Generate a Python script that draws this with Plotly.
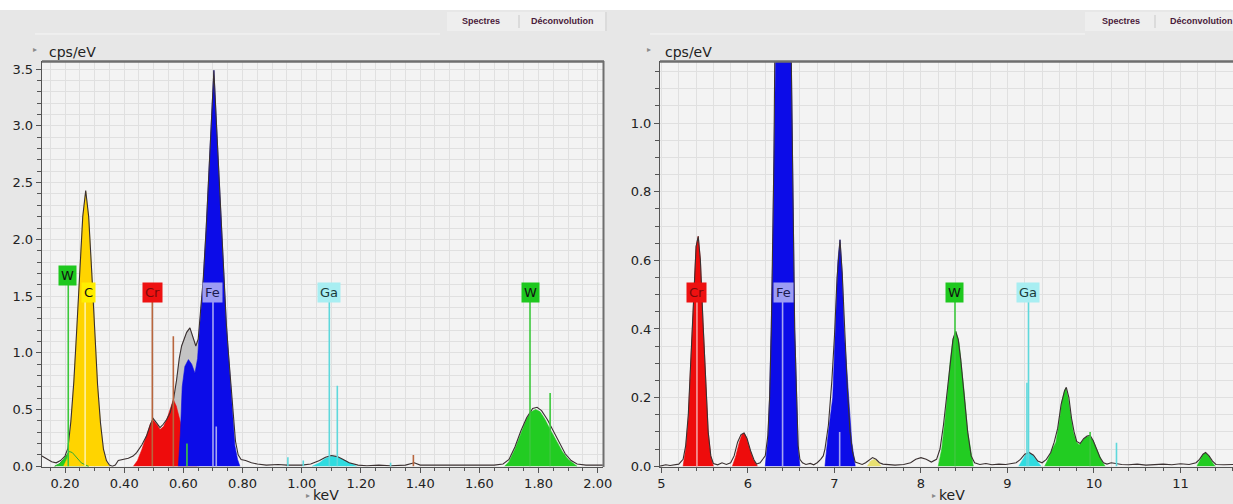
import plotly.graph_objects as go

# ---------------- data ----------------
# Left panel: low-energy spectrum (keV, cps/eV)
left_meas_e = [0.122, 0.14, 0.155, 0.17, 0.185, 0.20, 0.21, 0.22, 0.23, 0.24, 0.25, 0.26, 0.27, 0.28, 0.29,
               0.30, 0.31, 0.32, 0.33, 0.34, 0.35, 0.36, 0.37, 0.38, 0.40, 0.414, 0.43, 0.442, 0.46, 0.476,
               0.49, 0.498, 0.51, 0.521, 0.532, 0.543, 0.555, 0.566, 0.577, 0.586, 0.594, 0.603, 0.611,
               0.622, 0.633, 0.642, 0.650, 0.658, 0.667, 0.677, 0.685, 0.694, 0.703, 0.712, 0.721, 0.729,
               0.737, 0.745, 0.752, 0.760, 0.768, 0.776, 0.785, 0.795, 0.81, 0.83, 0.85, 0.88, 0.92, 0.95,
               1.00, 1.03, 1.06, 1.08, 1.10, 1.12, 1.14, 1.16, 1.19, 1.22, 1.26, 1.30, 1.35, 1.38, 1.40,
               1.45, 1.50, 1.55, 1.60, 1.65, 1.68, 1.70, 1.72, 1.74, 1.76, 1.78, 1.795, 1.81, 1.83, 1.85,
               1.87, 1.89, 1.91, 1.93, 1.96, 2.00, 2.017]
left_meas_y = [0.09, 0.06, 0.04, 0.03, 0.05, 0.09, 0.16, 0.40, 0.75, 1.22, 1.76, 2.2, 2.43, 2.2, 1.73,
               1.2, 0.72, 0.38, 0.15, 0.05, 0.01, 0.0, 0.01, 0.05, 0.06, 0.07, 0.09, 0.12, 0.19, 0.27,
               0.38, 0.42, 0.38, 0.34, 0.37, 0.41, 0.47, 0.58, 0.76, 0.95, 1.06, 1.13, 1.18,
               1.22, 1.13, 1.06, 1.12, 1.35, 1.65, 2.1, 2.55, 3.05, 3.49, 3.0, 2.5, 2.02,
               1.62, 1.26, 1.0, 0.72, 0.45, 0.22, 0.1, 0.06, 0.05, 0.03, 0.02, 0.01, 0.015, 0.01,
               0.01, 0.02, 0.05, 0.08, 0.095, 0.085, 0.06, 0.03, 0.01, 0.005, 0.01, 0.005, 0.01, 0.03, 0.01,
               0.01, 0.005, 0.01, 0.005, 0.01, 0.02, 0.06, 0.17, 0.31, 0.43, 0.51, 0.52, 0.49, 0.41, 0.31,
               0.2, 0.11, 0.05, 0.02, 0.01, 0.01, 0.01]

# unfitted residual (grey) region of the measured spectrum
gray_e = [0.555, 0.566, 0.577, 0.586, 0.594, 0.603, 0.611, 0.622, 0.633, 0.642, 0.652, 0.652, 0.555]
gray_y = [0.47, 0.58, 0.76, 0.95, 1.06, 1.13, 1.18, 1.22, 1.13, 1.06, 1.14, 0.0, 0.0]

w_m_e = [0.165, 0.18, 0.195, 0.205, 0.215, 0.225, 0.235, 0.245, 0.255, 0.27, 0.28]
w_m_y = [0.0, 0.02, 0.06, 0.10, 0.13, 0.12, 0.09, 0.06, 0.03, 0.01, 0.0]

c_k_e = [0.195, 0.21, 0.22, 0.23, 0.24, 0.25, 0.26, 0.27, 0.28, 0.29, 0.30, 0.31, 0.32, 0.33, 0.34, 0.35]
c_k_y = [0.0, 0.08, 0.38, 0.74, 1.2, 1.74, 2.19, 2.42, 2.19, 1.72, 1.19, 0.71, 0.37, 0.14, 0.04, 0.0]

cr_l_e = [0.431, 0.445, 0.46, 0.475, 0.488, 0.498, 0.51, 0.521, 0.533, 0.545, 0.556, 0.566, 0.576,
          0.586, 0.598, 0.61, 0.622, 0.633, 0.645]
cr_l_y = [0.0, 0.05, 0.15, 0.28, 0.37, 0.405, 0.37, 0.323, 0.35, 0.42, 0.52, 0.587, 0.53,
          0.42, 0.3, 0.18, 0.1, 0.05, 0.0]

fe_l_e = [0.583, 0.590, 0.596, 0.605, 0.617, 0.628, 0.639, 0.648, 0.654, 0.667, 0.677, 0.684, 0.693,
          0.703, 0.712, 0.721, 0.729, 0.737, 0.745, 0.752, 0.766, 0.774, 0.783, 0.791]
fe_l_y = [0.0, 0.3, 0.7, 0.88, 0.94, 0.9, 0.82, 0.95, 1.2, 1.63, 2.1, 2.5, 3.0,
          3.49, 3.0, 2.5, 2.0, 1.61, 1.25, 1.0, 0.5, 0.18, 0.06, 0.0]

ga_l_e = [1.035, 1.06, 1.08, 1.105, 1.13, 1.155, 1.185]
ga_l_y = [0.0, 0.03, 0.07, 0.09, 0.07, 0.035, 0.0]

w_l_e = [1.685, 1.70, 1.72, 1.74, 1.76, 1.775, 1.79, 1.805, 1.82, 1.84, 1.86, 1.88, 1.90, 1.92, 1.93]
w_l_y = [0.0, 0.04, 0.15, 0.29, 0.42, 0.48, 0.50, 0.48, 0.42, 0.32, 0.22, 0.13, 0.06, 0.02, 0.0]

# Left panel line markers
left_mark_e = [0.211, 0.268, 0.495, 0.566, 0.700, 0.711, 0.612, 1.093, 1.120, 1.771, 1.839, 0.953, 1.005, 1.30, 1.377]
left_mark_top = [1.61, 1.46, 1.46, 1.145, 1.46, 0.35, 0.2, 1.46, 0.71, 1.46, 0.646, 0.08, 0.05, 0.03, 0.1]
left_mark_col = ['#3cc83c', '#fff1a0', '#b8663e', '#b8663e', '#a6a6f0', '#a6a6f0', '#3cc83c', '#5ed8dc',
                 '#5ed8dc', '#3cc83c', '#3cc83c', '#5ed8dc', '#5ed8dc', '#5ed8dc', '#b8663e']

left_lab_txt = ['W', 'C', 'Cr', 'Fe', 'Ga', 'W']
left_lab_e = [0.207, 0.278, 0.494, 0.700, 1.092, 1.771]
left_lab_y = [1.68, 1.53, 1.53, 1.53, 1.53, 1.53]

# Right panel: high-energy spectrum
right_meas_e = [4.983, 5.05, 5.10, 5.15, 5.20, 5.25, 5.28, 5.31, 5.34, 5.37, 5.40, 5.425, 5.45, 5.48, 5.51,
                5.54, 5.57, 5.60, 5.65, 5.70, 5.75, 5.80, 5.84, 5.88, 5.92, 5.955, 5.99, 6.03, 6.07, 6.10,
                6.14, 6.17, 6.20, 6.23, 6.25, 6.27, 6.285, 6.30, 6.31, 6.33, 6.40, 6.47, 6.50, 6.512, 6.525,
                6.54, 6.563, 6.58, 6.60, 6.63, 6.67, 6.72, 6.76, 6.80, 6.84, 6.87, 6.89, 6.93, 6.97, 7.0,
                7.03, 7.064, 7.09, 7.12, 7.15, 7.18, 7.21, 7.24, 7.28, 7.32, 7.36, 7.40, 7.44, 7.48, 7.52,
                7.56, 7.62, 7.70, 7.80, 7.88, 7.94, 8.00, 8.06, 8.12, 8.18, 8.22, 8.26, 8.30, 8.34, 8.37,
                8.40, 8.43, 8.46, 8.50, 8.54, 8.58, 8.62, 8.68, 8.75, 8.82, 8.90, 8.98, 9.05, 9.10, 9.15,
                9.20, 9.25, 9.30, 9.35, 9.40, 9.45, 9.50, 9.54, 9.58, 9.62, 9.66, 9.68, 9.71, 9.74, 9.77,
                9.80, 9.84, 9.88, 9.92, 9.955, 9.99, 10.03, 10.07, 10.11, 10.15, 10.20, 10.25, 10.32, 10.40,
                10.50, 10.60, 10.70, 10.80, 10.90, 11.00, 11.10, 11.18, 11.22, 11.26, 11.29, 11.33, 11.37,
                11.41, 11.50, 11.607]
right_meas_y = [0.0, 0.004, 0.002, 0.005, 0.006, 0.02, 0.06, 0.15, 0.31, 0.5, 0.64, 0.67, 0.6, 0.42, 0.24,
                0.1, 0.03, 0.008, 0.004, 0.01, 0.005, 0.01, 0.03, 0.07, 0.092, 0.097, 0.08, 0.045, 0.018, 0.006,
                0.01, 0.02, 0.03, 0.09, 0.2, 0.4, 0.6, 0.9, 1.2, 1.8, 2.4, 1.8, 1.2, 0.9, 0.6,
                0.4, 0.2, 0.06, 0.02, 0.01, 0.005, 0.008, 0.004, 0.01, 0.02, 0.03, 0.05, 0.12, 0.25, 0.38,
                0.55, 0.66, 0.56, 0.38, 0.22, 0.1, 0.04, 0.012, 0.008, 0.005, 0.01, 0.018, 0.025, 0.02, 0.01,
                0.006, 0.004, 0.003, 0.005, 0.01, 0.02, 0.025, 0.02, 0.012, 0.02, 0.05, 0.12, 0.21, 0.3, 0.37,
                0.393, 0.37, 0.31, 0.21, 0.1, 0.03, 0.01, 0.005, 0.008, 0.004, 0.006, 0.005, 0.008, 0.01, 0.02,
                0.035, 0.04, 0.032, 0.015, 0.01, 0.02, 0.04, 0.07, 0.11, 0.18, 0.22, 0.23, 0.2, 0.14, 0.1,
                0.072, 0.066, 0.08, 0.088, 0.09, 0.075, 0.05, 0.025, 0.01, 0.006, 0.01, 0.008, 0.005, 0.004,
                0.006, 0.003, 0.005, 0.006, 0.004, 0.007, 0.005, 0.01, 0.02, 0.035, 0.04, 0.03, 0.015,
                0.005, 0.004, 0.005]

cr_ka_e = [5.25, 5.28, 5.31, 5.34, 5.37, 5.40, 5.425, 5.45, 5.48, 5.51, 5.54, 5.57, 5.60]
cr_ka_y = [0.0, 0.05, 0.14, 0.30, 0.49, 0.64, 0.67, 0.60, 0.42, 0.24, 0.10, 0.03, 0.0]
cr_kb_e = [5.82, 5.86, 5.90, 5.93, 5.955, 5.98, 6.02, 6.06, 6.11]
cr_kb_y = [0.0, 0.03, 0.07, 0.092, 0.097, 0.085, 0.05, 0.02, 0.0]
fe_ka_e = [6.20, 6.23, 6.25, 6.27, 6.285, 6.30, 6.31, 6.33, 6.40, 6.47, 6.50, 6.512, 6.525, 6.54, 6.563, 6.58, 6.60]
fe_ka_y = [0.0, 0.08, 0.2, 0.4, 0.6, 0.9, 1.2, 1.8, 2.4, 1.8, 1.2, 0.9, 0.6, 0.4, 0.2, 0.05, 0.0]
fe_kb_e = [6.89, 6.93, 6.98, 7.01, 7.04, 7.064, 7.09, 7.11, 7.16, 7.20, 7.24]
fe_kb_y = [0.0, 0.1, 0.2, 0.4, 0.6, 0.66, 0.56, 0.4, 0.2, 0.07, 0.0]
sum_pk_e = [7.38, 7.42, 7.46, 7.50, 7.54]
sum_pk_y = [0.0, 0.015, 0.02, 0.012, 0.0]
w_la_e = [8.20, 8.24, 8.28, 8.304, 8.34, 8.37, 8.405, 8.44, 8.47, 8.50, 8.54, 8.58, 8.605]
w_la_y = [0.0, 0.05, 0.14, 0.214, 0.31, 0.37, 0.393, 0.36, 0.29, 0.214, 0.10, 0.03, 0.0]
ga_ka_e = [9.13, 9.17, 9.21, 9.249, 9.29, 9.34, 9.39]
ga_ka_y = [0.0, 0.015, 0.033, 0.039, 0.032, 0.015, 0.0]
w_lb_e = [9.43, 9.47, 9.52, 9.56, 9.60, 9.63, 9.66, 9.676, 9.70, 9.73, 9.76, 9.80, 9.83, 9.87, 9.91,
          9.95, 9.99, 10.03, 10.07, 10.10, 10.13]
w_lb_y = [0.0, 0.02, 0.05, 0.07, 0.13, 0.19, 0.22, 0.228, 0.20, 0.15, 0.10, 0.07, 0.062, 0.075, 0.085,
          0.088, 0.075, 0.05, 0.025, 0.01, 0.0]
w_lg_e = [11.19, 11.23, 11.26, 11.29, 11.33, 11.37, 11.40]
w_lg_y = [0.0, 0.02, 0.034, 0.039, 0.028, 0.01, 0.0]

right_mark_e = [5.41, 6.40, 7.06, 8.393, 9.243, 9.225, 10.26, 9.955]
right_mark_top = [0.483, 0.483, 0.1, 0.483, 0.483, 0.243, 0.068, 0.1]
right_mark_col = ['#f4a0a0', '#a6a6f0', '#a6a6f0', '#3cc83c', '#5ed8dc', '#5ed8dc', '#5ed8dc', '#3cc83c']

right_lab_txt = ['Cr', 'Fe', 'W', 'Ga']
right_lab_e = [5.41, 6.405, 8.393, 9.237]
right_lab_y = [0.506, 0.506, 0.506, 0.506]

lab_bg = {'W': '#1ec81e', 'C': '#ffee00', 'Cr': '#ee1111', 'Fe': '#9c9cf4', 'Ga': '#a8eef2'}
lab_fg = {'W': '#111111', 'C': '#111111', 'Cr': '#7a0a0a', 'Fe': '#1a1a50', 'Ga': '#1a3a3a'}

BLUE = '#0c0ce8'
RED = '#ee0c0c'
GREEN = '#22cc22'
YELLOW = '#ffd400'
CYAN = '#30dce0'
GRAY = '#c4c4c4'

# ---------------- figure ----------------
W, H = 1233, 504
fig = go.Figure()

def px_x(p):
    return p / W

def px_y(p):
    return 1 - p / H

def area(xs, ys, color, xa='x', ya='y'):
    fig.add_trace(go.Scatter(x=xs, y=ys, fill='toself', fillcolor=color, mode='lines',
                             line=dict(width=0.6, color=color), xaxis=xa, yaxis=ya,
                             hoverinfo='skip', showlegend=False))

# left panel fills
area(gray_e, gray_y, GRAY)
area(w_m_e, w_m_y, GREEN)
area(c_k_e, c_k_y, YELLOW)
area(cr_l_e, cr_l_y, RED)
area(fe_l_e, fe_l_y, BLUE)
area(ga_l_e, ga_l_y, CYAN)
area(w_l_e, w_l_y, GREEN)
fig.add_trace(go.Scatter(x=w_m_e, y=w_m_y, mode='lines', line=dict(color='#33aa33', width=1),
                         hoverinfo='skip', showlegend=False))

# right panel fills
area(cr_ka_e, cr_ka_y, RED, 'x2', 'y2')
area(cr_kb_e, cr_kb_y, RED, 'x2', 'y2')
area(fe_ka_e, fe_ka_y, BLUE, 'x2', 'y2')
area(fe_kb_e, fe_kb_y, BLUE, 'x2', 'y2')
area(sum_pk_e, sum_pk_y, '#e8e070', 'x2', 'y2')
area(w_la_e, w_la_y, GREEN, 'x2', 'y2')
area(ga_ka_e, ga_ka_y, CYAN, 'x2', 'y2')
area(w_lb_e, w_lb_y, GREEN, 'x2', 'y2')
area(w_lg_e, w_lg_y, GREEN, 'x2', 'y2')

# measured spectra
fig.add_trace(go.Scatter(x=left_meas_e, y=left_meas_y, mode='lines', line=dict(color='#3a3030', width=1.1),
                         hoverinfo='skip', showlegend=False))
fig.add_trace(go.Scatter(x=right_meas_e, y=right_meas_y, mode='lines', line=dict(color='#3a3030', width=1.1),
                         xaxis='x2', yaxis='y2', hoverinfo='skip', showlegend=False))

# marker lines
for e, t, c in zip(left_mark_e, left_mark_top, left_mark_col):
    fig.add_trace(go.Scatter(x=[e, e], y=[0, t], mode='lines', line=dict(color=c, width=1.6),
                             hoverinfo='skip', showlegend=False))
for e, t, c in zip(right_mark_e, right_mark_top, right_mark_col):
    fig.add_trace(go.Scatter(x=[e, e], y=[0, t], mode='lines', line=dict(color=c, width=1.6),
                             xaxis='x2', yaxis='y2', hoverinfo='skip', showlegend=False))

annotations = []
for t, e, y in zip(left_lab_txt, left_lab_e, left_lab_y):
    annotations.append(dict(x=e, y=y, xref='x', yref='y', text=t, showarrow=False,
                            bgcolor=lab_bg[t], borderpad=2,
                            font=dict(family='DejaVu Sans', size=13, color=lab_fg[t])))
for t, e, y in zip(right_lab_txt, right_lab_e, right_lab_y):
    annotations.append(dict(x=e, y=y, xref='x2', yref='y2', text=t, showarrow=False,
                            bgcolor=lab_bg[t], borderpad=2,
                            font=dict(family='DejaVu Sans', size=13, color=lab_fg[t])))

txt_font = dict(family='DejaVu Sans', size=14, color='#222222')
small_arrow = dict(family='DejaVu Sans', size=8, color='#8a8a8a')
for (ax, axx) in [(47, 35), (663, 649)]:
    annotations.append(dict(x=px_x(ax), y=px_y(52), xref='paper', yref='paper', text='cps/eV',
                            showarrow=False, xanchor='left', yanchor='middle', font=txt_font))
    annotations.append(dict(x=px_x(axx), y=px_y(50), xref='paper', yref='paper', text='▸',
                            showarrow=False, xanchor='center', yanchor='middle', font=small_arrow))
for (kx, ax) in [(326, 308), (952, 934)]:
    annotations.append(dict(x=px_x(kx), y=px_y(495), xref='paper', yref='paper', text='keV',
                            showarrow=False, xanchor='center', yanchor='middle', font=txt_font))
    annotations.append(dict(x=px_x(ax), y=px_y(495), xref='paper', yref='paper', text='▸',
                            showarrow=False, xanchor='center', yanchor='middle', font=small_arrow))

tab_font = dict(family='Liberation Sans', size=9, color='#4a1a3a')
for (sx, dx) in [(481, 562), (1121, 1201)]:
    annotations.append(dict(x=px_x(sx), y=px_y(21), xref='paper', yref='paper', text='<b>Spectres</b>',
                            showarrow=False, xanchor='center', yanchor='middle', font=tab_font))
    annotations.append(dict(x=px_x(dx), y=px_y(21), xref='paper', yref='paper', text='<b>Déconvolution</b>',
                            showarrow=False, xanchor='center', yanchor='middle', font=tab_font))

shapes = [
    dict(type='rect', xref='paper', yref='paper', x0=0, x1=1, y0=px_y(10), y1=1,
         fillcolor='white', line=dict(width=0), layer='below'),
    dict(type='rect', xref='paper', yref='paper', x0=px_x(447), x1=px_x(607), y0=px_y(31), y1=px_y(12),
         fillcolor='#eeeeee', line=dict(width=0), layer='below'),
    dict(type='rect', xref='paper', yref='paper', x0=px_x(1085), x1=1, y0=px_y(31), y1=px_y(12),
         fillcolor='#eeeeee', line=dict(width=0), layer='below'),
    dict(type='line', xref='paper', yref='paper', x0=px_x(519), x1=px_x(519), y0=px_y(28), y1=px_y(15),
         line=dict(color='#c8c8c8', width=1)),
    dict(type='line', xref='paper', yref='paper', x0=px_x(606), x1=px_x(606), y0=px_y(31), y1=px_y(12),
         line=dict(color='#c8c8c8', width=1)),
    dict(type='line', xref='paper', yref='paper', x0=px_x(1155), x1=px_x(1155), y0=px_y(28), y1=px_y(15),
         line=dict(color='#c8c8c8', width=1)),
    dict(type='line', xref='paper', yref='paper', x0=px_x(35), x1=px_x(440), y0=px_y(34), y1=px_y(34),
         line=dict(color='#f6f6f6', width=1)),
    dict(type='line', xref='paper', yref='paper', x0=px_x(650), x1=px_x(1085), y0=px_y(34), y1=px_y(34),
         line=dict(color='#f6f6f6', width=1)),
    # plot frames (top / right borders)
    dict(type='line', xref='paper', yref='paper', x0=px_x(42), x1=px_x(604), y0=px_y(61.5), y1=px_y(61.5),
         line=dict(color='#6e6e6e', width=2.5)),
    dict(type='line', xref='paper', yref='paper', x0=px_x(603.5), x1=px_x(603.5), y0=px_y(61), y1=px_y(467),
         line=dict(color='#6e6e6e', width=2)),
    dict(type='line', xref='paper', yref='paper', x0=px_x(660), x1=1, y0=px_y(61.5), y1=px_y(61.5),
         line=dict(color='#6e6e6e', width=2.5)),
]

tick_font = dict(family='DejaVu Sans', size=13, color='#222222')
grid_c = '#e0e0e0'
common = dict(showline=True, linecolor='#555555', linewidth=1, ticks='outside', ticklen=5,
              tickcolor='#555555', tickwidth=1, gridcolor=grid_c, gridwidth=1, zeroline=False,
              tickfont=tick_font, fixedrange=True, automargin=False)

ydom = [1 - 466.7 / H, 1 - 61 / H]
fig.update_layout(
    width=W, height=H, margin=dict(l=0, r=0, t=0, b=0, autoexpand=False), autosize=False,
    paper_bgcolor='#e7e7e7', plot_bgcolor='#f3f3f3',
    showlegend=False,
    xaxis=dict(domain=[41.7 / W, 603 / W], range=[0.1213, 2.0176], dtick=0.2, tick0=0,
               tickformat='.2f', anchor='y',
               minor=dict(dtick=0.05, ticks='outside', ticklen=3, tickcolor='#555555',
                          showgrid=True, gridcolor=grid_c), **common),
    yaxis=dict(domain=ydom, range=[-0.004, 3.572], dtick=0.5, tick0=0, tickformat='.1f', anchor='x',
               minor=dict(dtick=0.1, ticks='outside', ticklen=4, tickcolor='#555555',
                          showgrid=True, gridcolor=grid_c), **common),
    xaxis2=dict(domain=[660 / W, 1.0], range=[4.983, 11.607], dtick=1, tick0=0, tickformat='d',
                anchor='y2',
                minor=dict(dtick=0.2, ticks='outside', ticklen=3, tickcolor='#555555',
                           showgrid=True, gridcolor=grid_c), **common),
    yaxis2=dict(domain=ydom, range=[-0.0015, 1.181], dtick=0.2, tick0=0, tickformat='.1f', anchor='x2',
                minor=dict(dtick=0.05, ticks='outside', ticklen=4, tickcolor='#555555',
                           showgrid=True, gridcolor=grid_c), **common),
    annotations=annotations, shapes=shapes,
)

post = ("var s=document.documentElement.style;s.margin='0';s.padding='0';s.overflow='hidden';s.height='504px';"
        "var b=document.body.style;b.margin='0';b.padding='0';b.overflow='hidden';b.height='504px';")
fig.write_html('out.html', config={'displayModeBar': False, 'responsive': False}, post_script=post)
